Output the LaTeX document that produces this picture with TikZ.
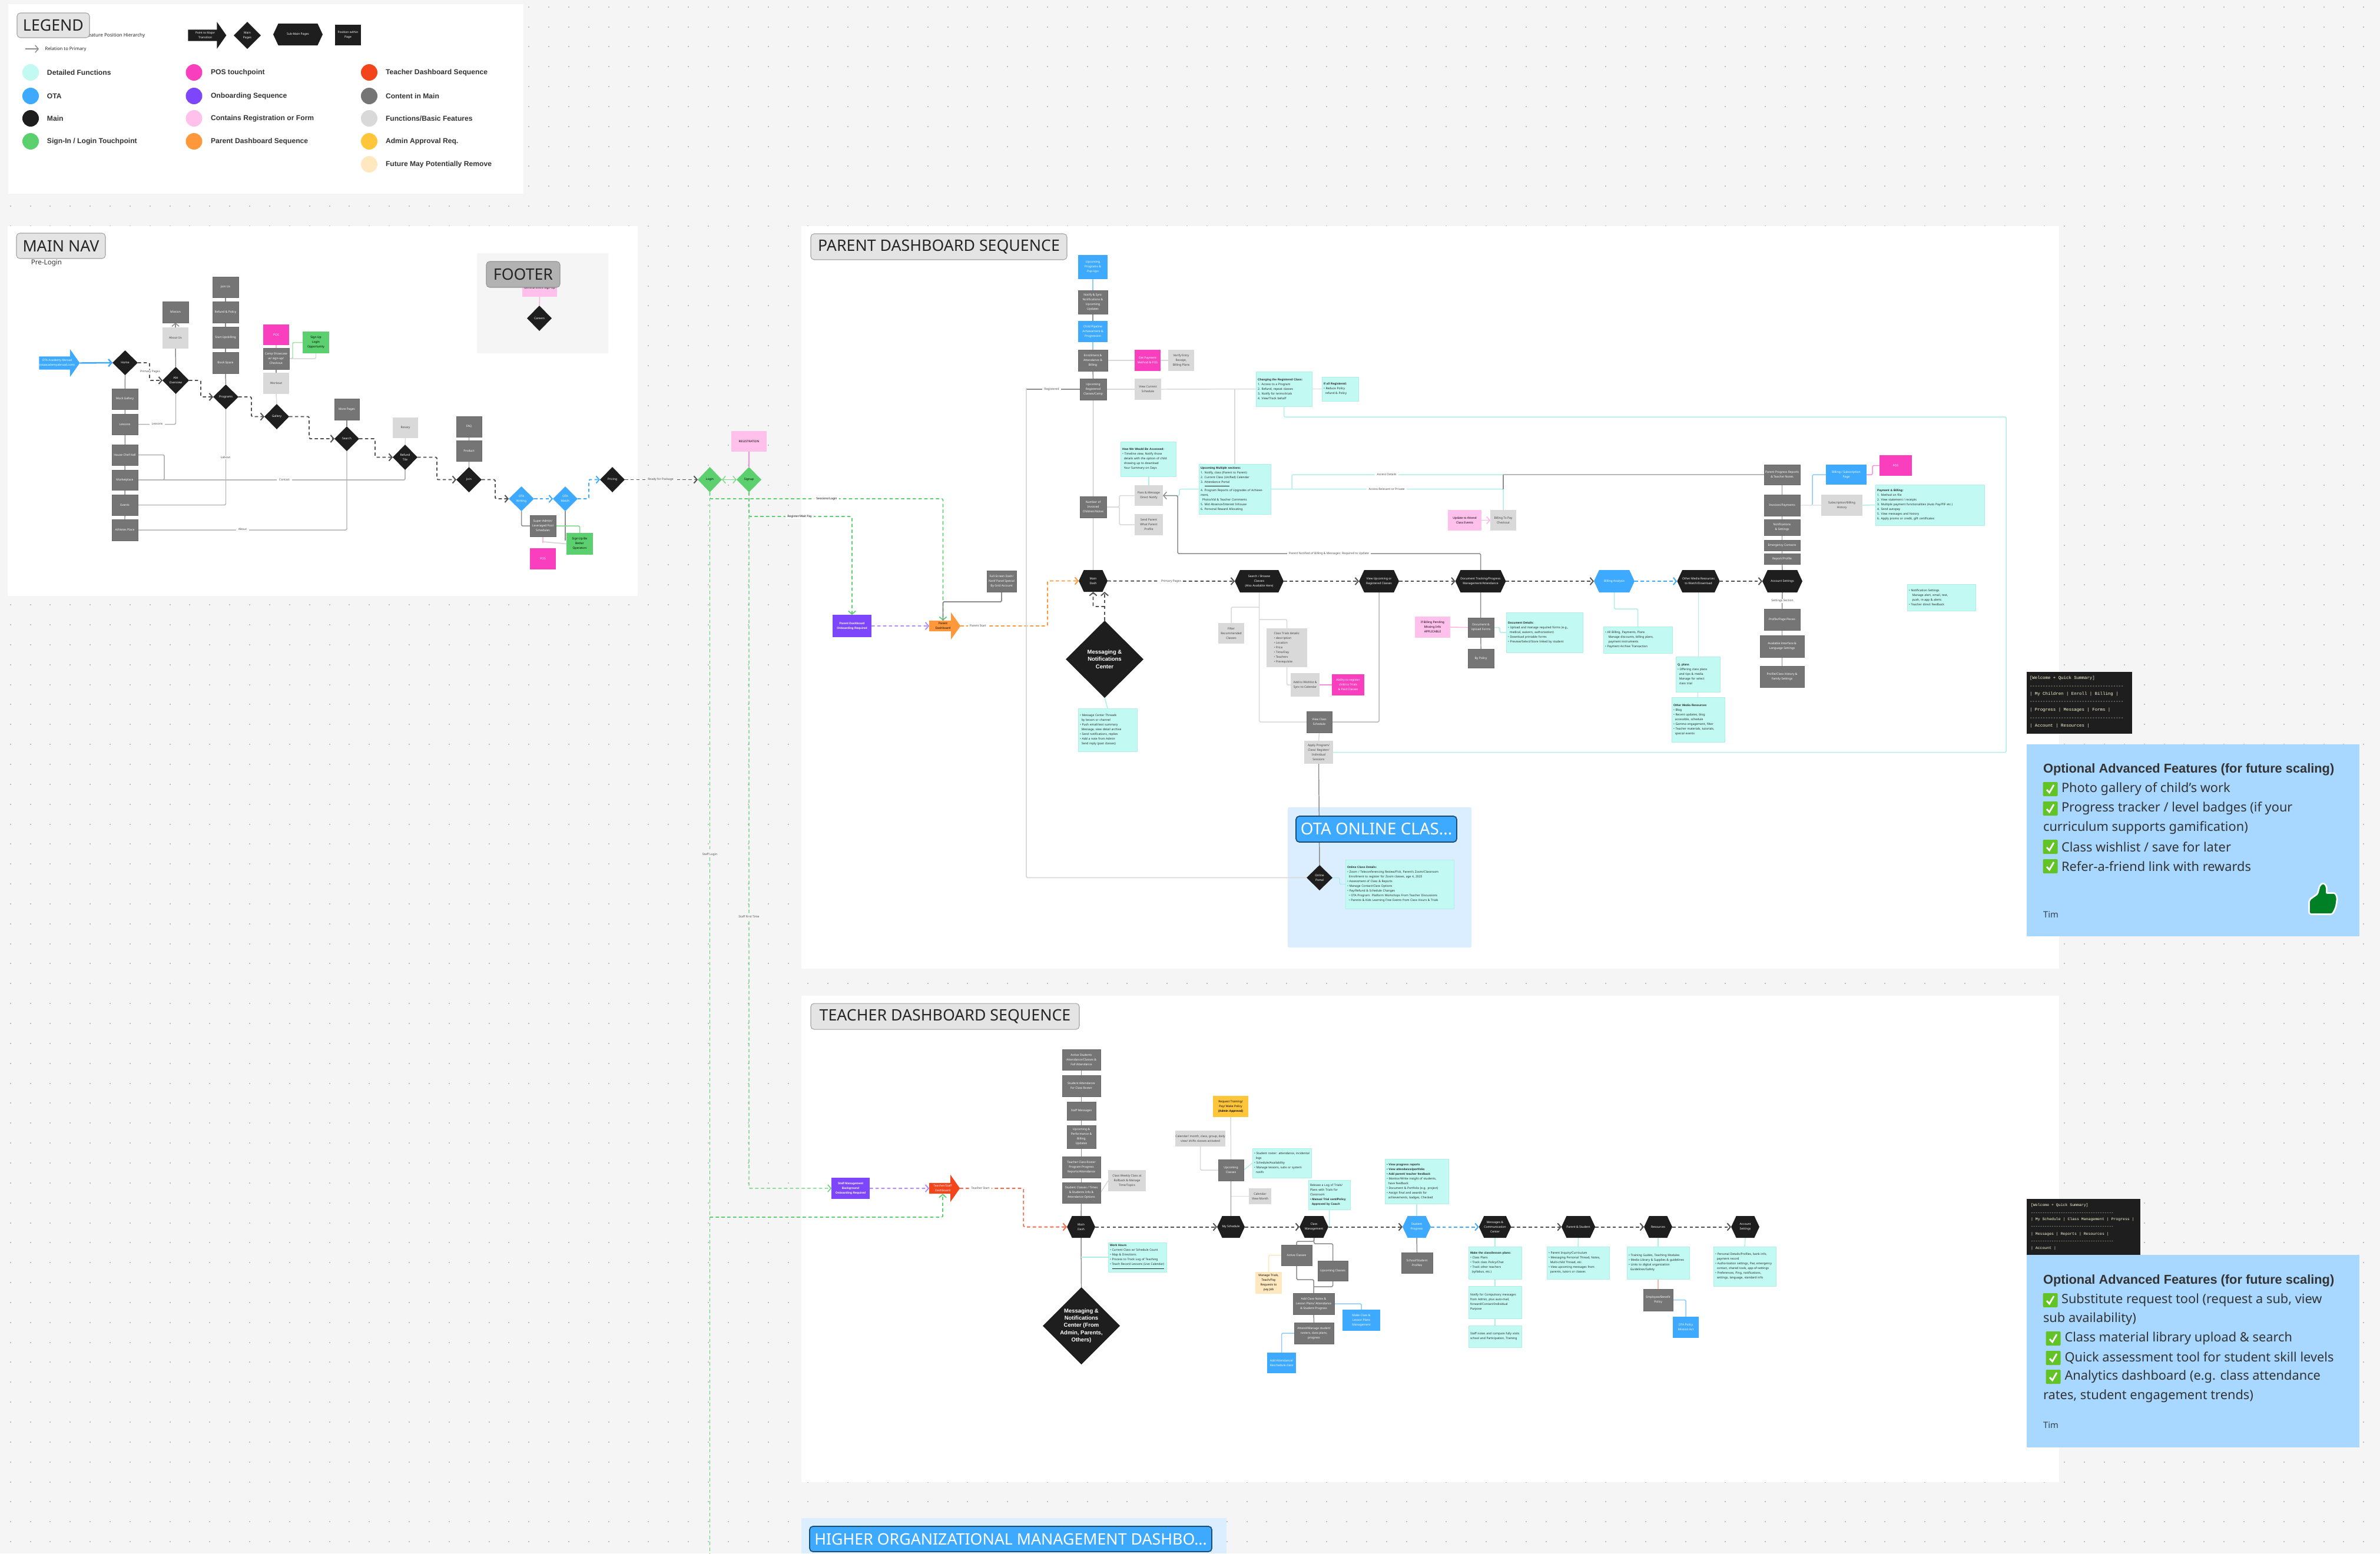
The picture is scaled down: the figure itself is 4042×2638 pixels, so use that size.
\documentclass[tikz,border=0pt]{standalone}
\usepackage{fontspec}
\setmainfont{Noto Sans}[BoldFont={Liberation Sans Bold}]
\newfontfamily\monof{Liberation Mono}
\usetikzlibrary{shapes.geometric,shapes.symbols,shapes.arrows,arrows.meta}
\pgfdeclarelayer{back}\pgfdeclarelayer{conn}\pgfsetlayers{back,conn,main}
\definecolor{cbg}{HTML}{F5F5F5}\definecolor{cdot}{HTML}{BDBDBD}
\definecolor{cteal}{HTML}{C2F9F2}\definecolor{ctl}{HTML}{AEEFE8}
\definecolor{cota}{HTML}{3DAAFF}\definecolor{cmain}{HTML}{1E1E1E}
\definecolor{cgrn}{HTML}{5CD06F}\definecolor{cpos}{HTML}{F93FBD}
\definecolor{cpur}{HTML}{7E46FA}\definecolor{creg}{HTML}{FFC0EB}
\definecolor{cora}{HTML}{FF983A}\definecolor{cred}{HTML}{F2451C}
\definecolor{cdk}{HTML}{757575}\definecolor{clt}{HTML}{D9D9D9}
\definecolor{cyel}{HTML}{FFC63C}\definecolor{cfut}{HTML}{FFE8BF}
\definecolor{cstk}{HTML}{A8D8FF}\definecolor{cpnl}{HTML}{DBEEFF}
\newcommand\fa{\fontsize{1.42pt}{2.27pt}\selectfont}
\newcommand\fb{\fontsize{2.7pt}{3.55pt}\selectfont\bfseries}
\newcommand\fleg{\fontsize{3.45pt}{4pt}\selectfont}
\newcommand\ftt{\fontsize{7.6pt}{9pt}\selectfont}
\newcommand\fst{\fontsize{6.2pt}{7pt}\selectfont}
\newcommand\fsh{\fontsize{6.2pt}{7pt}\selectfont\bfseries}
\newcommand\fmo{\fontsize{2.1pt}{2.6pt}\selectfont\monof}
\newcommand\fmt{\fontsize{1.85pt}{2.3pt}\selectfont\monof}
\newcommand\ind{\hspace*{0.8pt}}
\tikzset{
 x=0.01cm,y=-0.01cm,
 base/.style={inner sep=0pt,outer sep=0pt,align=center,font=\fa},
 dkb/.style={base,rectangle,fill=cdk,draw=cdk!90!black,line width=0.2pt,text=white},
 ltb/.style={base,rectangle,fill=clt,text=black!75},
 pkb/.style={base,rectangle,fill=cpos,text=white},
 rfb/.style={base,rectangle,fill=creg,text=black},
 grb/.style={base,rectangle,fill=cgrn,text=black},
 blb/.style={base,rectangle,fill=cota,text=white},
 ylb/.style={base,rectangle,fill=cyel,text=black},
 ftb/.style={base,rectangle,fill=cfut,text=black},
 pub/.style={base,rectangle,fill=cpur,text=white},
 kbx/.style={base,rectangle,fill=cmain,text=white},
 dia/.style={base,diamond,fill=cmain,text=white},
 bigdia/.style={dia,font=\fb},
 bdia/.style={base,diamond,fill=cota,text=white},
 gdia/.style={base,diamond,fill=cgrn,text=black},
 hexk/.style={base,signal,signal to=west and east,signal pointer angle=130,fill=cmain,text=white},
 hexb/.style={hexk,fill=cota},
 arrk/.style={base,single arrow,single arrow tip angle=110,fill=cmain,text=white},
 tealb/.style={rectangle,inner ysep=0pt,inner xsep=0.03cm,outer sep=0pt,align=left,font=\fa,fill=cteal,draw=ctl,line width=0.2pt,text=black!85},
 lab/.style={base,fill=white,inner xsep=1pt,inner ysep=0.3pt,text=black!70},
 ttl/.style={rectangle,rounded corners=1.6pt,inner sep=0pt,outer sep=0pt,font=\ftt,fill=clt!70,draw=clt!75!black,line width=0.3pt,text=black!85},
 ttb/.style={ttl,fill=cota,draw=cota!45!black,line width=0.5pt,text=white},
 ltxt/.style={inner sep=0pt,outer sep=0pt,anchor=west,font=\fleg\bfseries,text=black!80},
 stxt/.style={inner sep=0pt,outer sep=0pt,anchor=west,font=\fst,text=black!80},
 mtxt/.style={inner sep=0pt,outer sep=0pt,anchor=west,font=\fmo,text=yellow!15},
 mtxu/.style={mtxt,font=\fmt},
 ar/.style={-{Straight Barb[length=1.5pt,width=3.5pt]}},
 cn/.style={line width=0.42pt,rounded corners=0.5pt},
 dk/.style={cn,draw=black!68,line width=0.55pt,dash pattern=on 1.6pt off 1.2pt},
 dkbl/.style={dk,draw=cota},
 dkgr/.style={dk,draw=cgrn,line width=0.5pt},
 dkor/.style={dk,draw=cora},
 dkpu/.style={dk,draw=cpur!60},
 dkrd/.style={dk,draw=cred!80},
 gd/.style={cn,draw=black!45},
 gm/.style={cn,draw=black!28,line width=0.55pt},
 gl/.style={cn,draw=clt},
 tl/.style={cn,draw=ctl},
 bl/.style={cn,draw=cota!60},
 pk/.style={cn,draw=creg!90!cpos},
 gn/.style={cn,draw=cgrn!80},
 yl/.style={cn,draw=cfut!90!cyel}
}
\newcommand\nb[7]{\node[#1,minimum width={(#5-#3)*0.01cm},minimum height={(#6-#4)*0.01cm}] (#2) at ({(#3+#5)/2},{(#4+#6)/2}) {#7};}
\newcommand\tb[6]{\node[tealb,text width={(#4-#2-6)*0.01cm},minimum height={(#5-#3)*0.01cm}] (#1) at ({(#2+#4)/2},{(#3+#5)/2}) {#6};}
\newcommand\lgd[6]{\node[circle,fill=#4,inner sep=0pt,outer sep=0pt,minimum size=0.28cm] (#1) at (#2,#3) {};\node[ltxt] (#1t) at (#5,#3) {#6};}
\newcommand\ck[3]{\node[rectangle,rounded corners=0.4pt,fill=green!45!olive!85,inner sep=0pt,minimum width=0.25cm,minimum height=0.24cm] (#1) at (#2,#3) {};
 \draw[white,line width=0.8pt] (#2-6,#3+1) -- (#2-1.5,#3+6) -- (#2+6,#3-7);}
\newcommand\dashln{\foreach\i in {1,...,36}{-}}
\begin{document}
\begin{tikzpicture}
\useasboundingbox (0,0) rectangle (4042,2638);
\begin{pgfonlayer}{back}
\fill[cbg] (0,0) rectangle (4042,2638);
\foreach \k in {0,...,77}{\draw[cdot,line width=0.02cm,dash pattern=on 0.02cm off 0.3185cm] (16.65,{11.65+33.85*\k}) -- (4042,{11.65+33.85*\k});}
\fill[white] (14,7) rectangle (889,329);
\fill[white] (13,384) rectangle (1083,1012);
\fill[cbg,rounded corners=0.3pt] (810,430) rectangle (1033,600);
\fill[white] (1361,384) rectangle (3497,1645);
\fill[white] (1361,1691) rectangle (3497,2517);
\fill[cpnl,rounded corners=0.5pt] (2187,1371) rectangle (2499,1609);
\fill[cpnl] (1361,2578) rectangle (2083,2638);
\end{pgfonlayer}

%% LEGEND
\node[inner sep=0pt,anchor=east,font=\fontsize{2.3pt}{2.8pt}\selectfont,text=black!85] (legh) at (247,60) {Feature Position Hierarchy};
\nb{ttl}{legt}{29}{22}{152}{64}{LEGEND}
\coordinate (la1) at (43,83);\coordinate (la2) at (66,83);
\node[inner sep=0pt,anchor=west,font=\fontsize{2.2pt}{2.8pt}\selectfont,text=black!85] (legr) at (76,83) {Relation to Primary};
\node[arrk,minimum height=0.65cm,minimum width=0.46cm,single arrow head extend=0.09cm] (lgar) at (348.5,60) {Point to Major\\Transition};
\nb{dia}{lgdi}{397}{37}{443}{83}{Main\\Pages}
\nb{hexk}{lghx}{464}{40}{548}{77}{Sub-Main Pages}
\nb{kbx}{lgsq}{569}{42}{613}{77}{Position within\\Page}
\lgd{l1}{52}{123}{cteal}{80}{Detailed Functions}
\lgd{l2}{52}{163}{cota}{80}{OTA}
\lgd{l3}{52}{201}{cmain}{80}{Main}
\lgd{l4}{52}{240}{cgrn}{80}{Sign-In / Login Touchpoint}
\lgd{l5}{329.5}{123}{cpos}{358}{POS touchpoint}
\lgd{l6}{329.5}{163}{cpur}{358}{Onboarding Sequence}
\lgd{l7}{329.5}{201}{creg}{358}{Contains Registration or Form}
\lgd{l8}{329.5}{240}{cora}{358}{Parent Dashboard Sequence}
\lgd{l9}{627}{123}{cred}{655}{Teacher Dashboard Sequence}
\lgd{l10}{627}{163}{cdk}{655}{Content in Main}
\lgd{l11}{627}{201}{clt}{655}{Functions/Basic Features}
\lgd{l12}{627}{240}{cyel}{655}{Admin Approval Req.}
\lgd{l13}{627}{279}{cfut}{655}{Future May Potentially Remove}

%% MAIN NAV
\nb{ttl}{mnt}{28}{396}{179}{439}{MAIN NAV}
\node[inner sep=0pt,font=\fontsize{3.3pt}{4pt}\selectfont,text=black!80] (prel) at (79,447) {Pre-Login};
\node[arrk,fill=cota,minimum height=0.66cm,minimum width=0.47cm,single arrow head extend=0.08cm] (otaA) at (97,616.5) {OTA Academy Abroad\\(otaacademyabroad.com)};
\nb{dia}{home}{191}{595}{234}{637}{Home}
\nb{dia}{abt}{276}{623}{321}{669}{Abt\\Overview}
\nb{dkb}{mis}{276}{512}{320}{548}{Mission}
\nb{ltb}{abu}{276}{556}{320}{592}{About Us}
\nb{dia}{prog}{362}{653}{405}{695}{Programs}
\nb{dkb}{pj1}{361}{470}{405}{505}{Join Us}
\nb{dkb}{pj2}{361}{512}{405}{548}{Refund \& Policy}
\nb{dkb}{pj3}{361}{555}{405}{591}{Start Upskilling}
\nb{dkb}{pj4}{361}{598}{405}{634}{Book Space}
\nb{dia}{gal}{449}{686}{491}{729}{Gallery}
\nb{pkb}{gpos}{447}{551}{491}{586}{POS}
\nb{dkb}{gcmp}{447}{591}{491}{627}{Camp Showcase\\w/ sign-up/\\Checkout}
\nb{ltb}{gwk}{447}{633}{491}{669}{Workout}
\nb{grb}{gsgn}{514}{563}{559}{600}{Sign Up\\Login\\Opportunity}
\nb{dia}{srch}{568}{724}{610}{766}{Search}
\nb{dkb}{smr}{568}{677}{610}{713}{More Pages}
\nb{dia}{refd}{667}{755}{709}{798}{Refund\\Tile}
\nb{ltb}{rosy}{667}{709}{710}{744}{Rosary}
\nb{dia}{join}{775}{793}{818}{836}{Join}
\nb{dkb}{jfaq}{775}{707}{818}{742}{FAQ}
\nb{dkb}{jprd}{775}{748}{818}{783}{Product}
\nb{bdia}{owr}{864}{826}{907}{868}{OTA\\Writing}
\nb{bdia}{omt}{939}{826}{981}{868}{OTA\\Match}
\nb{dkb}{osup}{900}{875}{944}{911}{Super-Admin/\\Leveraged Pool\\Schedules}
\nb{grb}{osgn}{962}{905}{1007}{942}{Sign Up Be\\Better\\Operators}
\nb{pkb}{opos}{900}{931}{944}{967}{POS}
\nb{dia}{pric}{1019}{793}{1061}{836}{Pricing}
\nb{dkb}{c1}{190}{660}{234}{695}{Mock Gallery}
\nb{dkb}{c2}{190}{703}{234}{738}{Lessons}
\nb{dkb}{c3}{190}{755}{234}{790}{House Chef Hall}
\nb{dkb}{c4}{190}{798}{234}{832}{Marketplace}
\nb{dkb}{c5}{190}{840}{234}{875}{Events}
\nb{dkb}{c6}{190}{882}{234}{918}{Athletes Place}
\nb{rfb}{fpk}{887}{470}{946}{504}{\vspace{1.9pt}\\General Event Sign-Up}
\nb{ttl,fill=black!30,draw=black!42}{ftt}{826}{444}{951}{488}{FOOTER}
\nb{dia}{fcar}{895}{519}{937}{562}{Careers}
\nb{gdia}{login}{1185}{793}{1226}{836}{Login}
\nb{gdia}{signup}{1251}{793}{1293}{836}{Signup}
\nb{rfb}{regb}{1242}{732}{1302}{767}{REGISTRATION}

%% PARENT
\nb{ttl}{pat}{1377}{397}{1812}{441}{PARENT DASHBOARD SEQUENCE}
\nb{pub}{ppur}{1414}{1044}{1480}{1082}{\bfseries Parent Dashboard\\\bfseries Onboarding Required}
\node[arrk,fill=cora,text=black,minimum height=0.53cm,minimum width=0.46cm,single arrow head extend=0.10cm] (parr) at (1601.5,1063) {Parent\\Dashboard};
\nb{dkb}{pfull}{1676}{969}{1726}{1005}{Full-Screen Dash/\\Notif Panel Special\\By Grid Account}
\nb{hexk}{hm}{1832}{968}{1881}{1005}{Main\\Dash}
\nb{bigdia}{bigd}{1810}{1054}{1942}{1185}{Messaging \&\\Notifications\\Center}
\tb{tmsg}{1831}{1203}{1931}{1276}{\textbullet\ Message Center Threads\\\ind by lesson or channel\\\textbullet\ Push email/text summary\\\ind Message, view detail archive\\\textbullet\ Send notifications, replies\\\textbullet\ Add a note from Admin\\\ind Send reply (past classes)}
\nb{blb}{pupc}{1831}{433}{1881}{474}{Upcoming\\Programs \&\\Pop-Ups}
\nb{dkb}{pnot}{1831}{493}{1881}{533}{Notify \& Sync\\Notifications \&\\Upcoming\\Updates}
\nb{blb}{pach}{1831}{545}{1881}{581}{Child Pipeline\\Achievement \&\\Progression}
\nb{dkb}{penr}{1831}{594}{1881}{630}{Enrollment \&\\Attendance \&\\Billing}
\nb{dkb}{preg}{1834}{643}{1879}{679}{Upcoming\\Registered\\Classes/Camp}
\nb{pkb}{ppay}{1927}{594}{1971}{630}{Get Payment\\Method \& POS}
\nb{ltb}{pver}{1984}{594}{2028}{630}{Verify Entry\\Receipt,\\Billing Plans}
\nb{ltb}{pview}{1927}{643}{1972}{679}{View Current\\Schedule}
\tb{tchg}{2133}{631}{2228}{690}{\textbf{Changing the Registered Class:}\\1. Access to a Program\\2. Refund, repeat classes\\3. Notify for terms/trials\\4. View/Track behalf}
\tb{tifr}{2245}{640}{2307}{681}{\textbf{If all Registered:}\\\textbullet\ Reduce Policy\\\ind refund \& Policy}
\tb{tmul}{2036}{788}{2158}{873}{\textbf{Upcoming Multiple sections:}\\1. Notify, class (Parent to Parent)\\2. Current Class (Unified) Calendar\\3. \underline{Attendance Portal}\\4. Program Reports of Upgrades of Achievement,\\\ind Photo/Vid \& Teacher Comments\\5. Mid Absence/Interest Inhouse\\6. Personal Reward Allocating}
\tb{thow}{1903}{750}{1997}{809}{\textbf{How We Would Be Accessed:}\\\textbullet\ Timeline view, Notify those\\\ind details with the option of child\\\ind showing up to download\\\ind Your Summary on Days}
\nb{ltb}{ppas}{1927}{824}{1975}{859}{Pass \& Message\\Direct Notify}
\nb{ltb}{psnd}{1927}{873}{1975}{909}{Send Parent\\What Parent\\Profile}
\nb{dkb}{pnum}{1834}{843}{1879}{879}{Number of\\Invoiced\\Children/Notes}
\nb{ltb}{pchk}{2531}{866}{2575}{901}{Billing To Pay\\Checkout}
\nb{rfb}{pupd}{2459}{866}{2516}{901}{Update to Attend\\Class Events}
\nb{hexk}{ha}{2097}{968}{2180}{1006}{Search / Browse\\Classes\\(Also Available Here)}
\nb{hexk}{hb}{2308}{968}{2376}{1006}{View Upcoming or\\Registered Classes}
\nb{hexk}{hc}{2473}{968}{2556}{1006}{Document Tracking/Progress\\Management/Attendance}
\nb{hexb}{hd}{2707}{968}{2776}{1006}{Billing Analysis}
\nb{hexk}{he}{2850}{968}{2919}{1006}{Other Media Resources\\to Watch/Download}
\nb{hexk}{hf}{2993}{968}{3061}{1006}{Account Settings}
\nb{ltb}{pflt}{2069}{1058}{2113}{1093}{Filter\\Recommended\\Classes}
\node[base,rectangle,fill=clt,text=black!75,align=left,minimum width=0.69cm,minimum height=0.66cm] (pdet) at (2185.5,1100) {Class Trials details:\\\textbullet\ description\\\textbullet\ Location\\\textbullet\ Price\\\textbullet\ Time/Day\\\textbullet\ Teachers\\\textbullet\ Prerequisite};
\nb{ltb}{pwsh}{2192}{1143}{2241}{1183}{Add to Wishlist \&\\Sync to Calendar}
\nb{pkb}{pabl}{2262}{1145}{2317}{1181}{Ability to register\\child to Trials\\\& Paid Classes}
\nb{dkb}{psch}{2219}{1208}{2262}{1244}{View Class\\Schedule}
\nb{ltb}{papp}{2215}{1258}{2264}{1297}{Apply Program/\\Class/ Register/\\Individual\\Sessions}
\nb{rfb}{pbil}{2403}{1047}{2463}{1083}{If Billing Pending\\Missing Info\\APPLICABLE}
\nb{dkb}{pdoc}{2493}{1049}{2537}{1082}{Document \&\\Upload Forms}
\nb{dkb}{ppol}{2493}{1102}{2537}{1134}{By Policy}
\tb{tdoc}{2558}{1040}{2688}{1108}{\textbf{Document Details:}\\\textbullet\ Upload and manage required forms (e.g.,\\\ind medical, waivers, authorization)\\\textbullet\ Download printable forms\\\textbullet\ Preview/Select/Store linked by student}
\tb{tbill}{2723}{1064}{2840}{1109}{\textbullet\ All Billing, Payments, Plans\\\ind\ind Manage discounts, billing plans,\\\ind\ind payment instruments\\\textbullet\ Payment Archive Transaction}
\tb{tplan}{2846}{1115}{2921}{1175}{\textbf{Q. plans}\\\textbullet\ Offering class plans\\\ind and tips \& media\\\ind Manage for select\\\ind class trial}
\tb{tmed}{2839}{1184}{2929}{1260}{\textbf{Other Media Resources}\\\textbullet\ Blog\\\textbullet\ Recent updates, blog\\\ind accessible, schedule\\\textbullet\ Gamma engagement, filter\\\textbullet\ Teacher materials, tutorials,\\\ind special events}
\nb{dkb}{st1}{2996}{789}{3057}{823}{Parent Progress Reports\\\& Teacher Notes}
\nb{dkb}{st2}{2996}{840}{3057}{876}{Invoices/Payments}
\nb{dkb}{st3}{2996}{882}{3057}{909}{Notifications\\\& Settings}
\nb{dkb}{st4}{2996}{917}{3057}{935}{Emergency Contacts}
\nb{dkb}{st5}{2996}{940}{3057}{958}{Report/Profile}
\node[lab] (stl) at (3027,1020) {Settings Section};
\nb{dkb}{st6}{2996}{1034}{3057}{1070}{Profile/Page Pieces}
\nb{dkb}{st7}{2989}{1079}{3064}{1116}{Available Interface \&\\Language Settings}
\nb{dkb}{st8}{2989}{1131}{3064}{1167}{Profile/Class History \&\\Family Settings}
\nb{blb}{pblu}{3101}{789}{3170}{823}{Billing / Subscription\\Page}
\nb{pkb}{ppos}{3192}{773}{3247}{808}{POS}
\nb{ltb}{plh}{3093}{840}{3163}{876}{Subscription/Billing\\History}
\tb{tpay}{3185}{823}{3370}{892}{\textbf{Payment \& Billing:}\\1. Method on file\\2. View statement / receipts\\3. Multiple payment functionalities (Auto Pay/PIF etc.)\\4. Send autopay\\5. View messages and history\\6. Apply promo or credit, gift certificates}
\tb{tntf}{3239}{992}{3355}{1037}{\textbullet\ Notification Settings\\\ind\ind Manage alert, email, text,\\\ind\ind push, in-app \& alerts\\\textbullet\ Teacher direct feedback}
%% OTA panel
\nb{ttb,font=\fontsize{7.9pt}{9pt}\selectfont}{otat}{2201}{1386}{2474}{1430}{OTA ONLINE CLAS...}
\nb{dia}{otad}{2219}{1469}{2263}{1512}{Online\\Portal}
\tb{tota}{2285}{1460}{2469}{1543}{\textbf{Online Class Details:}\\\textbullet\ Zoom / Teleconferencing Review/Pick, Parent's Zoom/Classroom\\\ind Enrollment to register for Zoom classes, age 4, 2025\\\textbullet\ Assessment of Class \& Reports\\\textbullet\ Manage Contact/Class Options\\\textbullet\ Pay/Refund \& Schedule Changes\\\ind\textbullet\ OTA Program: Platform Workshops From Teacher Discussions\\\ind\textbullet\ Parents \& Kids Learning Free Events from Class Hours \& Trials}

%% TEACHER
\nb{ttl}{tet}{1377}{1704}{1833}{1748}{TEACHER DASHBOARD SEQUENCE}
\nb{pub}{tpur}{1412}{2000}{1477}{2036}{\bfseries Staff Management\\\bfseries Background\\\bfseries Onboarding Required}
\node[arrk,fill=cred,minimum height=0.52cm,minimum width=0.46cm,single arrow head extend=0.10cm] (tarr) at (1601,2018) {Teacher/Staff\\Dashboard};
\nb{hexk}{tm}{1812}{2065}{1860}{2102}{Main\\Dash}
\nb{hexk}{ts}{2067}{2065}{2114}{2102}{My Schedule}
\nb{hexk}{tc}{2207}{2065}{2256}{2102}{Class\\Management}
\nb{hexb}{tp}{2382}{2065}{2430}{2102}{Student\\Progress}
\nb{hexk}{tmg}{2515}{2065}{2563}{2102}{Messages \&\\Communication\\Center}
\nb{hexk}{tpa}{2656}{2065}{2705}{2102}{Parent \& Student}
\nb{hexk}{tr}{2792}{2065}{2840}{2102}{Resources}
\nb{hexk}{tac}{2940}{2065}{2988}{2102}{Account\\Settings}
\nb{dkb}{ts1}{1804}{1782}{1869}{1817}{Active Students\\Attendance/Classes \&\\Full Attendance}
\nb{dkb}{ts2}{1804}{1826}{1869}{1862}{Student Attendance\\for Class Roster}
\nb{dkb}{ts3}{1812}{1871}{1861}{1902}{Staff Messages}
\nb{dkb}{ts4}{1812}{1911}{1861}{1950}{Upcoming \&\\Performance \&\\Billing\\Updates}
\nb{dkb}{ts5}{1804}{1964}{1869}{2000}{Teacher Class Roster\\Program Progress\\Reports/Attendance}
\nb{dkb}{ts6}{1804}{2008}{1869}{2043}{Student Classes / Times\\\& Students Info \&\\Attendance Options}
\nb{ltb}{tlw}{1882}{1987}{1946}{2023}{Class Weekly Class at\\Rollback \& Manage\\Time/Topics}
\tb{twork}{1882}{2110}{1981}{2160}{\textbf{Work Hours}\\\textbullet\ Current Class w/ Schedule Count\\\textbullet\ Map \& Directions\\\textbullet\ Process to Track Log of Teaching\\\textbullet\ \underline{Teach Record Lessons (Live Calendar)}}
\nb{bigdia}{tdia}{1771}{2186}{1902}{2317}{Messaging \&\\Notifications\\Center (From\\Admin, Parents,\\Others)}
\nb{ylb}{tyl}{2060}{1861}{2120}{1897}{Request Training/\\Pay/ Make Policy\\\textbf{(Admin Approval)}}
\nb{ltb}{tcal}{1996}{1920}{2081}{1947}{Calendar/ month, class, group, daily\\view/ shifts classes activated}
\nb{dkb}{tup}{2069}{1969}{2112}{2005}{Upcoming\\Classes}
\tb{tros}{2127}{1950}{2227}{2000}{\textbullet\ Student roster: attendance, incidental\\\ind logs\\\textbullet\ Schedule/Availability\\\textbullet\ Manage lessons, subs or system\\\ind notifs}
\nb{ltb}{tvm}{2121}{2018}{2159}{2045}{Calendar\\View Month}
\tb{trel}{2222}{2004}{2293}{2054}{Release a Log of Trials/\\Plans with Trials for\\Classroom\\\textbf{\textbullet\ Manual Trial sent/Policy}\\\textbf{\ind Approved by Coach}}
\nb{dkb}{tac1}{2176}{2114}{2228}{2149}{Active Classes}
\nb{dkb}{tac2}{2238}{2141}{2289}{2175}{Upcoming Classes}
\nb{ftb}{tyf}{2132}{2160}{2177}{2197}{Manage Trials,\\Teach/Pay\\Requests to\\pay Job}
\nb{dkb}{tan}{2196}{2196}{2266}{2232}{Add Class Notes \&\\Lesson Plans/ Attendance\\\& Student Progress}
\nb{dkb}{tat}{2198}{2246}{2265}{2282}{Attend/Manage student\\rosters, class plans,\\progress}
\nb{blb}{tbl1}{2280}{2224}{2344}{2260}{Make Class \&\\Lesson Plans\\Management}
\nb{blb}{tbl2}{2152}{2297}{2201}{2332}{Add Attendance/\\Reschedule class}
\tb{tprg}{2352}{1968}{2460}{2044}{\textbf{\textbullet\ View progress reports}\\\textbf{\textbullet\ View attendance/portfolio}\\\textbf{\textbullet\ Add parent/ teacher feedback}\\\textbullet\ Monitor/Write insight of students,\\\ind have feedback\\\textbullet\ Document \& Portfolio (e.g. project)\\\textbullet\ Assign final and awards for\\\ind achievements, badges, Checked}
\nb{dkb}{tsp}{2380}{2127}{2433}{2162}{School/Student\\Profiles}
\tb{tm1}{2494}{2117}{2584}{2172}{\textbf{Make the class/lesson plans:}\\\textbullet\ Class Plans\\\textbullet\ Track class Policy/Chat\\\textbullet\ Track other teachers\\\ind (syllabus, etc.)}
\tb{tm2}{2494}{2184}{2584}{2239}{Notify for Compulsory messages\\from Admin, plus auto-mail,\\forward/Contact/Individual\\Purpose}
\tb{tm3}{2494}{2251}{2584}{2288}{Staff notes and compare fully visits\\school and Participation, Training}
\tb{tm4}{2627}{2117}{2733}{2172}{\textbullet\ Parent Inquiry/Curriculum\\\textbullet\ Messaging Personal Thread, Notes,\\\ind Multi-child Thread, etc.\\\textbullet\ View upcoming messages from\\\ind parents, tutors or classes}
\tb{tm5}{2763}{2117}{2869}{2172}{\textbullet\ Training Guides, Teaching Modules\\\textbullet\ Media Library \& Supplies \& guidelines\\\textbullet\ Links to digital organization\\\ind Guidelines/Safety}
\nb{dkb}{temp}{2791}{2189}{2841}{2226}{Employee/Benefit\\Policy}
\nb{blb}{tmis}{2841}{2236}{2885}{2272}{OTA Policy\\Mission Act}
\tb{tm6}{2910}{2117}{3016}{2184}{\textbullet\ Personal Details/Profiles, bank info,\\\ind payment record\\\textbullet\ Authorization settings, Pwr, emergency\\\ind contact, shared tools, app-of-settings\\\textbullet\ Preferences, Ping, notifications,\\\ind settings, language, standard info}

%% HIGHER
\nb{ttb}{hot}{1375}{2592}{2058}{2635}{HIGHER ORGANIZATIONAL MANAGEMENT DASHBO...}

%% STICKIES
\nb{kbx}{bk1}{3442}{1141}{3621}{1246}{}
\node[mtxt] (m11) at (3447,1152) {[Welcome + Quick Summary]};
\node[mtxt] (m12) at (3447,1166) {\dashln};
\node[mtxt] (m13) at (3447,1179) {| My Children | Enroll | Billing |};
\node[mtxt] (m14) at (3447,1192) {\dashln};
\node[mtxt] (m15) at (3447,1206) {| Progress | Messages | Forms |};
\node[mtxt] (m16) at (3447,1220) {\dashln};
\node[mtxt] (m17) at (3447,1233) {| Account | Resources |};
\nb{base,rectangle,fill=cstk}{sk1}{3442}{1264}{4007}{1590}{}
\node[stxt,font=\fsh] (s10) at (3470,1307) {Optional Advanced Features (for future scaling)};
\ck{c11}{3482}{1340}\node[stxt] (s11) at (3501,1340) {Photo gallery of child's work};
\ck{c12}{3482}{1373}\node[stxt] (s12) at (3501,1373) {Progress tracker / level badges (if your};
\node[stxt] (s13) at (3470,1406) {curriculum supports gamification)};
\ck{c14}{3482}{1438}\node[stxt] (s14) at (3501,1438) {Class wishlist / save for later};
\ck{c15}{3482}{1471}\node[stxt] (s15) at (3501,1471) {Refer-a-friend link with rewards};
\node[stxt,text=black!50!cstk!60!black,font=\fontsize{4.2pt}{5pt}\selectfont] (s16) at (3470,1553) {Tim};
\draw[white,line width=1.6pt,line join=round,fill=white,rounded corners=0.6pt] (3923,1529)--(3937,1519)--(3941,1504)--(3946,1501)--(3950,1506)--(3950,1518)--(3965,1518)--(3968,1525)--(3967,1532)--(3966,1539)--(3963,1546)--(3960,1551)--(3923,1551)--cycle;
\fill[green!50!black!70!teal,rounded corners=0.6pt] (3923,1529)--(3937,1519)--(3941,1504)--(3946,1501)--(3950,1506)--(3950,1518)--(3965,1518)--(3968,1525)--(3967,1532)--(3966,1539)--(3963,1546)--(3960,1551)--(3923,1551)--cycle;
\nb{kbx}{bk2}{3442}{2036}{3635}{2131}{}
\node[mtxu] (m21) at (3449,2047) {[Welcome + Quick Summary]};
\node[mtxu] (m22) at (3449,2060) {\dashln};
\node[mtxu] (m23) at (3449,2071) {| My Schedule | Class Management | Progress |};
\node[mtxu] (m24) at (3449,2083) {\dashln};
\node[mtxu] (m25) at (3449,2096) {| Messages | Reports | Resources |};
\node[mtxu] (m26) at (3449,2108) {\dashln};
\node[mtxu] (m27) at (3449,2120) {| Account |};
\nb{base,rectangle,fill=cstk}{sk2}{3442}{2131}{4007}{2458}{}
\node[stxt,font=\fsh] (s20) at (3470,2175) {Optional Advanced Features (for future scaling)};
\ck{c21}{3482}{2208}\node[stxt] (s21) at (3501,2208) {Substitute request tool (request a sub, view};
\node[stxt] (s22) at (3470,2240) {sub availability)};
\ck{c23}{3487}{2273}\node[stxt] (s23) at (3506.5,2273) {Class material library upload \& search};
\ck{c24}{3487}{2306}\node[stxt] (s24) at (3506.5,2306) {Quick assessment tool for student skill levels};
\ck{c25}{3487}{2338}\node[stxt] (s25) at (3506.5,2338) {Analytics dashboard (e.g. class attendance};
\node[stxt] (s26) at (3470,2371) {rates, student engagement trends)};
\node[stxt,text=black!50!cstk!60!black,font=\fontsize{4.2pt}{5pt}\selectfont] (s27) at (3470,2420) {Tim};

%% labels on connectors
\node[lab] (lb01) at (255,631) {Primary Pages};
\node[lab] (lb02) at (267,720) {Lessons};
\node[lab] (lb03) at (483,815) {Contact};
\node[lab] (lb04) at (383,777) {Labout};
\node[lab] (lb05) at (412,899) {About};
\node[lab,fill=cbg] (lb06) at (1122,814) {Ready for Package};
\node[lab,text=black] (lb07) at (1404,847) {Sessions/Login};
\node[lab,text=black] (lb08) at (1358,877) {Register/Wait Pay};
\node[lab,fill=cbg] (lb09) at (1205.5,1451) {Staff Login};
\node[lab,fill=cbg] (lb10) at (1272,1557) {Staff First Time};
\node[lab] (lb11) at (1661,1063) {Parent Start};
\node[lab] (lb12) at (1665,2018) {Teacher Start};
\node[lab] (lb13) at (1786,661) {Registered};
\node[lab] (lb14) at (1989,987) {Primary Pages};
\node[lab] (lb15) at (2355,806) {Access Details};
\node[lab] (lb16) at (2355,831) {Access Relevant or Private};
\node[lab] (lb17) at (2257,940) {Parent Notified of Billing \& Messages: Required to Update};

%% connectors
\begin{pgfonlayer}{conn}
\draw[gd,ar] (la1) -- (la2);
\draw[bl,draw=cota,line width=0.7pt,ar] (otaA.tip) -- (home.west);
\draw[dk,ar] (home.east) -- ++(20,0) |- (abt.west);
\draw[dk,ar] (abt.east) -- ++(20,0) |- (prog.west);
\draw[dk,ar] (prog.east) -- ++(22,0) |- (gal.west);
\draw[dk,ar] (gal.east) -- ++(34,0) |- (srch.west);
\draw[dk,ar] (srch.east) -- ++(27,0) |- (refd.west);
\draw[dk,ar] (refd.east) -- ++(33,0) |- (join.west);
\draw[dk,ar] (join.east) -- ++(23,0) |- (owr.west);
\draw[dkbl,ar] (owr.east) -- (omt.west);
\draw[dkbl,ar] (omt.east) -- ++(19,0) |- (pric.west);
\draw[dk,ar] (pric.east) -- (login.west);
\draw[gd] (home.south) -- (c6.north);
\draw[gd] (abt.north) -- (abu.south);\draw[gd,ar] (abu.north) -- (mis.south);
\draw[gl,draw=black!30] (abt.south) |- (c2.east);
\draw[gm] (c3.east) -- ++(45,0) |- (c4.east);
\draw[gm] (c4.east) -| (refd.south);
\draw[gl,draw=black!28] (c5.east) -| (prog.south);
\draw[gd,draw=black!30] (c6.east) -| (srch.south);
\draw[gd] (prog.north) -- (pj4.south);\draw[gd] (pj4.north) -- (pj3.south);\draw[gd] (pj3.north) -- (pj2.south);\draw[gd] (pj2.north) -- (pj1.south);
\draw[gl] (gal.north) -- (gwk.south);\draw[gd] (gwk.north) -- (gcmp.south);\draw[pk] (gcmp.north) -- (gpos.south);
\draw[gl,draw=cgrn!60] (gcmp.east) -- ++(6,0) |- (gsgn.west);
\draw[gl] (gcmp.east) -| (gsgn.south);
\draw[gd] (srch.north) -- (smr.south);
\draw[gl] (refd.north) -- (rosy.south);
\draw[gd] (join.north) -- (jprd.south);\draw[gd] (jprd.north) -- (jfaq.south);
\draw[gd] (owr.south) |- (osup.west);
\draw[gd] (omt.south) -- ++(0,50);
\draw[gn] (osup.east) -- ++(18,0) -| (osgn.north);
\draw[gm,draw=clt] (osup.south) ++(0,9) -- (osgn.west);
\draw[pk,dashed] (osup.south) -- (opos.north);
\draw[pk] (fcar.north) -- (fpk.south);
\draw[pk,draw=cpos!60] (regb.south) -- (signup.north);
\draw[gn,{Straight Barb[length=1.5pt,width=3.5pt]}-{Straight Barb[length=1.5pt,width=3.5pt]}] (login.east) -- (signup.west);
\draw[dkgr,ar] (login.south) -- ++(0,11) -| (parr.north);
\draw[dkgr,ar] (signup.south) -- ++(0,41) -| (ppur.north);
\coordinate (lb) at (1205.5,2638);\coordinate (lj) at (1205.5,2067);
\draw[dkgr,line width=0.35pt] (login.south) -- (lb);
\draw[dkgr,line width=0.4pt,ar] (signup.south) |- (tpur.west);
\draw[dkgr,ar] (lj) -| (tarr.south);
\draw[dkpu,ar] (ppur.east) -- (parr.west);
\draw[dkor,ar] (parr.tip) -- ++(148,0) |- (hm.west);
\coordinate (je) at (1601.5,1022);
\draw[gd,line width=0.55pt] (pfull.south) |- (je) -- (parr.north);
\draw[dk,ar] (bigd.north) ++(0,0) -- (bigd.north |- hm.south);
\coordinate (jd) at (1876,1030);
\draw[dk,ar] (jd) -| (hm.south);
\draw[tl] (bigd.south) -- (tmsg.north);
\draw[bl] (pupc.south) -- (pnot.north);\draw[gd] (pnot.south) -- (pach.north);\draw[bl] (pach.south) -- (penr.north);\draw[gd] (penr.south) -- (preg.north);
\draw[gm] (preg.south) -- (pnum.north);\draw[gm] (pnum.south) -- (hm.north);
\draw[gl] (penr.east) -- (ppay.west);\draw[gl] (ppay.east) -- (pver.west);
\draw[gl] (preg.east) -- (pview.west);\draw[gl] (pview.east) -- (tchg.west);\draw[gl] (tmul.north) -- (tmul.north |- tchg.west);\draw[gl] (tchg.east) -- (tifr.west);
\draw[tl] (ppas.north) -- (ppas.north |- thow.south);
\draw[gl] (pnum.east) -- ++(22,0) |- (ppas.west);\draw[gl] (pnum.east) -- ++(22,0) |- (psnd.west);
\draw[tl] (tmul.west) -- ++(-33,0) |- (ppas.east);
\coordinate (j1) at (2000,940);
\draw[gd,ar] (hc.north) |- (j1) |- (ppas.east);
\coordinate (frame) at (3407,708);
\draw[tl] (tchg.south) |- (frame) |- (papp.east);
\coordinate (ja) at (pchk.north |- tmul.east);\coordinate (jb) at (pchk.north |- st1.west);\coordinate (jc) at (2194,830.5);
\draw[tl] (tmul.east) -- (ja) -- (pchk.north);
\draw[tl] (jc) |- (jb);
\draw[gd] (jb) -- (ja);
\draw[gm] (jb) -- (st1.west);
\draw[pk,ar] (pupd.east) -- (pchk.west);
\draw[dk,ar] (hm.east) -- (ha.west);\draw[dk,ar] (ha.east) -- (hb.west);\draw[dk,ar] (hb.east) -- (hc.west);\draw[dk,ar] (hc.east) -- (hd.west);\draw[dkbl,ar] (hd.east) -- (he.west);\draw[dk,ar] (he.east) -- (hf.west);
\draw[gd] (st1.south) -- (st2.north);\draw[gd] (st2.south) -- (st3.north);\draw[gd] (st3.south) -- (st4.north);\draw[gd] (st4.south) -- (st5.north);\draw[gd] (st5.south) -- (hf.north);
\draw[gd] (hf.south) -- (st6.north);\draw[gd] (st6.south) -- (st7.north);\draw[gd] (st7.south) -- (st8.north);
\draw[bl] (st2.east) -- ++(21,0) |- (pblu.west);
\draw[pk,draw=cpos!60] (pblu.east) -- ++(10,0) |- (ppos.west);
\draw[gl,draw=clt!60] (st2.east) -- (plh.west);\draw[tl] (plh.east) -- (tpay.west);
\draw[tl] (hd.south) -- ++(0,28) -| (tbill.north);
\draw[tl] (he.south) -- (he.south |- tplan.north);\draw[tl] (tplan.south) -- (tplan.south |- tmed.north);
\draw[gl] (ha.south) |- (psch.west);
\draw[gl] (ha.south) ++(0,25) -| (pflt.north);
\draw[gl] (ha.south) ++(0,46) -| (pdet.north);
\draw[gl] (pdet.south) |- (pwsh.west);
\draw[pk,draw=cpos!60] (pwsh.east) -- (pabl.west);
\draw[gl,draw=black!28] (hb.south) |- (psch.east);
\draw[gl] (psch.south) -- (papp.north);
\draw[gd] (papp.south) -- (otad.north);
\coordinate (lf) at (1743,661);
\draw[gd] (preg.west) -- (lf);
\draw[gm,draw=clt] (lf) |- (otad.west);
\draw[tl] (otad.east) -- ++(12,0) |- (tota.west);
\draw[gd] (hc.south) -- (ppol.north);
\draw[pk] (pbil.east) -- (pdoc.west);
\draw[tl] (pdoc.east) -- ++(10,0) |- (tdoc.west);
%% teacher
\draw[dkpu,ar] (tpur.east) -- (tarr.west);
\draw[dkrd,ar] (tarr.tip) -- ++(108,0) |- (tm.west);
\draw[dk,ar] (tm.east) -- (ts.west);\draw[dk,ar] (ts.east) -- (tc.west);\draw[dk,ar] (tc.east) -- (tp.west);\draw[dkbl,ar] (tp.east) -- (tmg.west);\draw[dk,ar] (tmg.east) -- (tpa.west);\draw[dk,ar] (tpa.east) -- (tr.west);\draw[dk,ar] (tr.east) -- (tac.west);
\draw[gd] (ts1.south) -- (ts2.north);\draw[gd] (ts2.south) -- (ts3.north);\draw[gd] (ts3.south) -- (ts4.north);\draw[gd] (ts4.south) -- (ts5.north);\draw[gd] (ts5.south) -- (ts6.north);\draw[gd] (ts6.south) -- (tm.north);
\draw[gl] (ts6.east) -- (tlw.west);
\draw[gd] (tm.south) -- (tdia.north);
\draw[tl] (tm.south |- twork.west) -- (twork.west);
\draw[gl] (tyl.south) -- (tup.north);
\draw[gl] (tcal.south) |- (tup.west);
\draw[tl] (tup.east) -- (tros.west);
\draw[gd] (tup.south) -- (tup.south |- ts.north);
\draw[gl] (tvm.west) -- (tup.south |- tvm.west);
\draw[tl] (trel.south) |- (tc.east);
\draw[gd] (tc.south) -- ++(0,6) -| (tac1.north);
\draw[gd] (tc.south) -- ++(0,10) -| (tac2.north);
\coordinate (jt) at (2231,2173);\coordinate (ju) at (2231,2185);
\draw[gd] (tac1.south) |- (jt) -- (tan.north);
\draw[gd] (tac2.south) |- (ju);
\draw[gd] (tan.south) -- (tat.north);
\draw[bl] (tan.east) -| (tbl1.north);
\draw[bl] (tat.west) -| (tbl2.north);
\draw[yl] (tac1.west) -| (tyf.north);
\draw[gd] (tp.south) -- (tsp.north);
\draw[tl] (tprg.south) -- (tp.north);
\draw[tl] (tmg.south) -- (tm1.north);\draw[tl] (tm1.south) -- (tm2.north);\draw[tl] (tm2.south) -- (tm3.north);
\draw[tl] (tpa.south) -- (tm4.north);
\draw[tl] (tr.south) -- (tm5.north);
\draw[cn,draw=cred!40] (tm5.south) -- (temp.north);
\draw[bl] (temp.east) -| (tmis.north);
\draw[tl] (tac.south) -- (tm6.north);
\end{pgfonlayer}
\end{tikzpicture}
\end{document}
